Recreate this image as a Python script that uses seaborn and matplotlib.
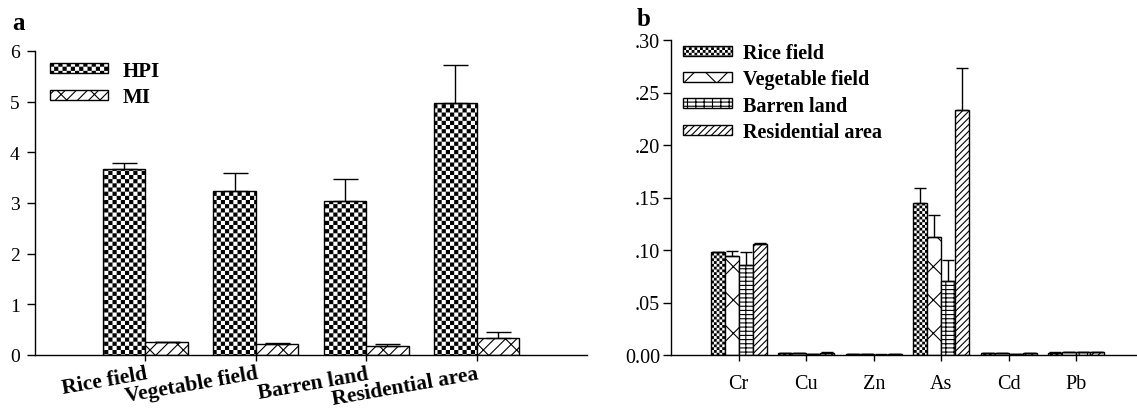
import warnings
import numpy as np
import pandas as pd
import matplotlib
matplotlib.use("Agg")
import matplotlib.pyplot as plt
import matplotlib.hatch as mhatch
from matplotlib.path import Path
import seaborn as sns

warnings.filterwarnings("ignore", message=".*hatch must consist.*")

# panel a: pollution indices per land use
sites = ["Rice field", "Vegetable field", "Barren land", "Residential area"]
hpi = [3.68, 3.23, 3.04, 4.97]
hpi_err = [0.11, 0.36, 0.44, 0.75]
mi = [0.25, 0.22, 0.18, 0.34]
mi_err = [0.005, 0.02, 0.03, 0.12]

# panel b: per metal values for each land use
metals = ["Cr", "Cu", "Zn", "As", "Cd", "Pb"]
rice = [0.0977, 0.0015, 0.0010, 0.1446, 0.0018, 0.0022]
rice_err = [0.0003, 0.0002, 0.0001, 0.0144, 0.0002, 0.0003]
vegetable = [0.0945, 0.0015, 0.0010, 0.1126, 0.0018, 0.0030]
vegetable_err = [0.0048, 0.0002, 0.0001, 0.0209, 0.0002, 0.0003]
barren = [0.0860, 0.0012, 0.0004, 0.0707, 0.0010, 0.0025]
barren_err = [0.0117, 0.0002, 0.0001, 0.0197, 0.0002, 0.0003]
residential = [0.1056, 0.0020, 0.0008, 0.2331, 0.0015, 0.0025]
residential_err = [0.0014, 0.0007, 0.0001, 0.0399, 0.0002, 0.0003]

y_ticks_b = [0, 0.05, 0.10, 0.15, 0.20, 0.25, 0.30]
y_labels_b = ["0.00", ".05", ".10", ".15", ".20", ".25", ".30"]


class CheckerHatch(mhatch.HatchPatternBase):
    # filled checkerboard, hatch character "c"
    filled = True

    def __init__(self, hatch, density):
        self.cells = hatch.count("c") * 2 * density
        self.num_vertices = self.cells * self.cells // 2 * 5

    def set_vertices_and_codes(self, vertices, codes):
        step = 1.0 / self.cells
        inset = plt.rcParams["hatch.linewidth"] / 72 / 2
        k = 0
        for i in range(self.cells):
            for j in range(self.cells):
                if (i + j) % 2:
                    continue
                x0, x1 = i * step + inset, (i + 1) * step - inset
                y0, y1 = j * step + inset, (j + 1) * step - inset
                vertices[k:k + 5] = [(x0, y0), (x1, y0), (x1, y1), (x0, y1), (x0, y0)]
                codes[k:k + 5] = [Path.MOVETO, Path.LINETO, Path.LINETO,
                                  Path.LINETO, Path.CLOSEPOLY]
                k += 5


mhatch._hatch_types.append(CheckerHatch)

sns.set_style("ticks", {"axes.edgecolor": "black", "xtick.color": "black",
                        "ytick.color": "black", "text.color": "black"})
plt.rcParams["font.family"] = ["Liberation Serif", "DejaVu Serif"]
plt.rcParams["hatch.linewidth"] = 0.8
plt.rcParams["hatch.color"] = "black"
plt.rcParams["axes.linewidth"] = 1.0

W, H = 1137, 414
fig = plt.figure(figsize=(W / 100, H / 100), dpi=100)
ax1 = fig.add_axes([35 / W, 1 - 356 / H, (587 - 35) / W, (356 - 52) / H])
ax2 = fig.add_axes([671 / W, 1 - 356 / H, (1144 - 671) / W, (356 - 41) / H])

# ---- panel a
df_a = pd.DataFrame({
    "site": sites * 2,
    "index": ["HPI"] * len(sites) + ["MI"] * len(sites),
    "value": hpi + mi,
})
sns.barplot(data=df_a, x="site", y="value", hue="index", palette=["white", "white"],
            saturation=1, width=0.77, edgecolor="black", linewidth=1,
            errorbar=None, legend=False, ax=ax1)
bars_a = list(ax1.containers)
for bars, err, hatch in zip(bars_a, [hpi_err, mi_err], ["cc", "x//"]):
    for bar in bars:
        bar.set_hatch(hatch)
    xs = [b.get_x() + b.get_width() / 2 for b in bars]
    hs = [b.get_height() for b in bars]
    ax1.errorbar(xs, hs, yerr=[np.zeros(len(err)), err], fmt="none",
                 ecolor="black", elinewidth=1, capsize=9, capthick=1)

ax1.legend(bars_a, ["HPI", "MI"], loc="upper left", bbox_to_anchor=(0.027, 0.968),
           frameon=False, prop={"weight": "bold", "size": 15}, handlelength=2.8,
           handleheight=0.38, handletextpad=0.68, labelspacing=0.32,
           borderpad=0, borderaxespad=0)
ax1.set_xlim(-1, 4)
ax1.set_ylim(0, 6)
ax1.set_yticks(range(7))
ax1.set_xlabel("")
ax1.set_ylabel("")
ax1.set_xticks(range(len(sites)))
ax1.set_xticklabels(sites, rotation=10, ha="right", va="top", rotation_mode="anchor",
                    fontweight="bold", fontsize=15.5)
ax1.tick_params(axis="y", length=6, width=1, labelsize=14, pad=5)
ax1.tick_params(axis="x", length=4, width=1, pad=2)
sns.despine(ax=ax1)

# ---- panel b
lands = ["Rice field", "Vegetable field", "Barren land", "Residential area"]
df_b = pd.DataFrame({
    "metal": metals * 4,
    "land": np.repeat(lands, len(metals)),
    "value": rice + vegetable + barren + residential,
})
sns.barplot(data=df_b, x="metal", y="value", hue="land", hue_order=lands,
            palette=["white"] * 4, saturation=1, width=0.83, edgecolor="black",
            linewidth=1, errorbar=None, legend=False, ax=ax2)
bars_b = list(ax2.containers)
errs_b = [rice_err, vegetable_err, barren_err, residential_err]
for bars, err, hatch in zip(bars_b, errs_b, ["ccc", "x", "----||", "/////"]):
    for bar in bars:
        bar.set_hatch(hatch)
    xs = [b.get_x() + b.get_width() / 2 for b in bars]
    hs = [b.get_height() for b in bars]
    ax2.errorbar(xs, hs, yerr=[np.zeros(len(err)), err], fmt="none",
                 ecolor="black", elinewidth=1, capsize=4.5, capthick=1)

ax2.legend(bars_b, lands, loc="upper left", bbox_to_anchor=(0.025, 0.990),
           frameon=False, prop={"weight": "bold", "size": 14.5}, handlelength=2.44,
           handleheight=0.38, handletextpad=0.55, labelspacing=0.31,
           borderpad=0, borderaxespad=0)
ax2.set_xlim(-1, 6)
ax2.set_ylim(0, 0.30)
ax2.set_yticks(y_ticks_b)
ax2.set_yticklabels(y_labels_b)
ax2.set_xlabel("")
ax2.set_ylabel("")
ax2.tick_params(axis="y", length=6, width=1, labelsize=14.5, pad=2)
ax2.tick_params(axis="x", length=4, width=1, labelsize=14.5, pad=10)
sns.despine(ax=ax2)

fig.text(12 / W, 1 - 30 / H, "a", fontsize=18, fontweight="bold", va="baseline")
fig.text(637 / W, 1 - 26 / H, "b", fontsize=18, fontweight="bold", va="baseline")

fig.savefig("out.png", dpi=100)
plt.close(fig)
